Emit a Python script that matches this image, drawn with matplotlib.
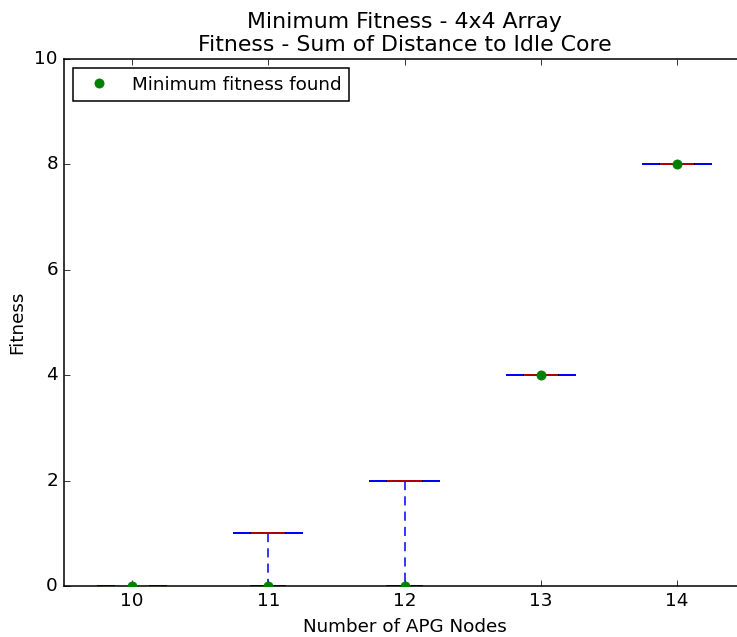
"""Minimum fitness box summary for the 4x4 array (sum of distance to idle core)."""

import matplotlib

matplotlib.use("Agg")
import matplotlib.pyplot as plt

plt.style.use("classic")
plt.rcParams["font.family"] = ["DejaVu Sans"]

# Per APG-node-count summary of fitness values
NODES = [10, 11, 12, 13, 14]
WHISKER_LOW = [0, 0, 0, 4, 8]
Q1 = [0, 1, 2, 4, 8]
MEDIAN = [0, 1, 2, 4, 8]
Q3 = [0, 1, 2, 4, 8]
WHISKER_HIGH = [0, 1, 2, 4, 8]
MIN_FITNESS = [0, 0, 0, 4, 8]

stats = [
    {"whislo": lo, "q1": a, "med": m, "q3": b, "whishi": hi, "fliers": []}
    for lo, a, m, b, hi in zip(WHISKER_LOW, Q1, MEDIAN, Q3, WHISKER_HIGH)
]

DPI = 110
fig = plt.figure(figsize=(737 / DPI, 637 / DPI), dpi=DPI, facecolor="white")
ax = fig.add_axes([64 / 737, 51 / 637, 681 / 737, 527 / 637])

ax.bxp(
    stats, positions=NODES, widths=0.5, showfliers=False,
    boxprops=dict(color="blue", linewidth=1.1),
    whiskerprops=dict(color="blue", linestyle=(0, (6, 4)), linewidth=1.0),
    capprops=dict(color="black", linewidth=1.1),
    medianprops=dict(linestyle="none"),
)
# medians are drawn over the centre half of each box
ax.hlines(MEDIAN, [p - 0.125 for p in NODES], [p + 0.125 for p in NODES], colors="#d00000", linewidth=1.1, zorder=3)
ax.plot(NODES, MIN_FITNESS, "o", color="green", markeredgecolor="green", markersize=6, zorder=4,
        label="Minimum fitness found")

ax.set_xlim(9.5, 14.5)
ax.set_ylim(0, 10)
ax.set_xticks(NODES)
ax.set_xticklabels([str(n) for n in NODES])
ax.set_yticks([0, 2, 4, 6, 8, 10])
ax.set_xlabel("Number of APG Nodes")
ax.set_ylabel("Fitness")
ax.set_title("Minimum Fitness - 4x4 Array\nFitness - Sum of Distance to Idle Core")
ax.legend(loc="upper left", numpoints=1, fontsize=12)

fig.savefig("out.png", dpi=DPI, facecolor="white")
